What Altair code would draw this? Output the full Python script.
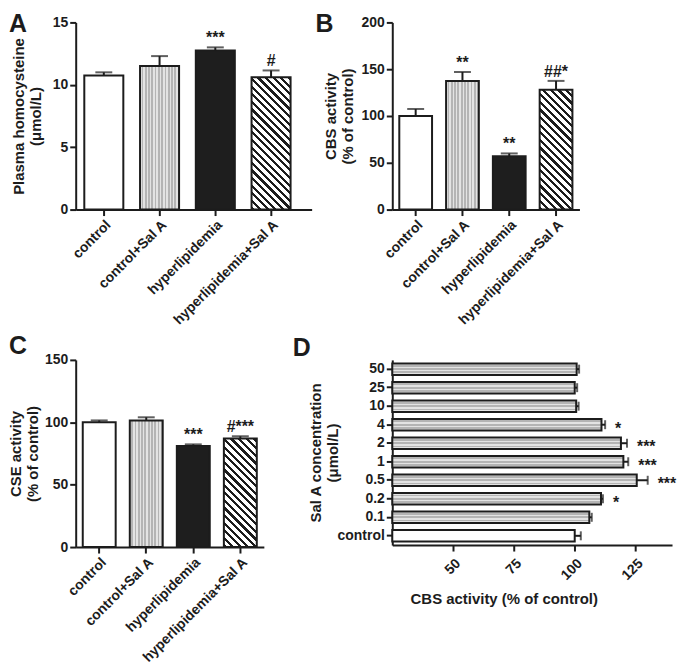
import altair as alt
import pandas as pd

# ---------------- data ----------------
panel_letters = ["A", "B", "C", "D"]
groups = ["control", "control+Sal A", "hyperlipidemia", "hyperlipidemia+Sal A"]
group_fill = ["open", "stipple", "solid", "hatch"]

hcy_mean = [10.75, 11.5, 12.75, 10.6]
hcy_sem = [0.25, 0.8, 0.25, 0.55]
hcy_sig = ["", "", "***", "#"]

cbs_mean = [100, 137.5, 57, 128]
cbs_sem = [7.5, 9.5, 3, 9.5]
cbs_sig = ["", "**", "**", "##*"]

cse_mean = [100, 101.5, 81, 87]
cse_sem = [1.5, 2.5, 1.3, 1.8]
cse_sig = ["", "", "***", "#***"]

conc = ["50", "25", "10", "4", "2", "1", "0.5", "0.2", "0.1", "control"]
conc_fill = ["stipple"] * 9 + ["open"]
conc_mean = [100.8, 100.0, 100.6, 111.0, 119.0, 120.0, 125.5, 110.8, 106.0, 100.0]
conc_sem = [1.0, 1.0, 1.0, 1.5, 2.5, 2.0, 4.5, 0.8, 1.0, 2.5]
conc_sig = ["", "", "", "*", "***", "***", "***", "*", "", ""]

# ---------------- style ----------------
FONT = "Liberation Sans"
INK = "#1c1c1c"
PI = 0.3
H = 188


def hatch_gradient(w, h, period=5.4, duty=0.42):
    """Diagonal '\\' stripes drawn with a sharp-stop linear gradient."""
    k = (w + h) / (w * w + h * h)
    n = (w + h) / (2 ** 0.5 * period)
    stops = []
    i = 0
    while i / n < 1:
        s0 = i / n
        s1 = min((i + duty) / n, 1.0)
        s2 = min((i + 1) / n, 1.0)
        stops += [
            {"offset": s0, "color": INK},
            {"offset": s1, "color": INK},
            {"offset": s1, "color": "#ffffff"},
            {"offset": s2, "color": "#ffffff"},
        ]
        i += 1
    return {"gradient": "linear", "stops": stops,
            "x1": 0, "y1": 1, "x2": w * k, "y2": 1 - h * k}


def stipple_gradient(length, along_x, period=3.3, duty=0.45,
                     dark="#b4b4b4", light="#e3e3e3"):
    """Fine light-grey texture across the short side of a bar."""
    n = length / period
    stops = []
    i = 0
    while i / n < 1:
        s0 = i / n
        s1 = min((i + duty) / n, 1.0)
        s2 = min((i + 1) / n, 1.0)
        stops += [
            {"offset": s0, "color": light},
            {"offset": s1, "color": light},
            {"offset": s1, "color": dark},
            {"offset": s2, "color": dark},
        ]
        i += 1
    if along_x:
        return {"gradient": "linear", "stops": stops, "x1": 0, "y1": 0, "x2": 1, "y2": 0}
    return {"gradient": "linear", "stops": stops, "x1": 0, "y1": 0, "x2": 0, "y2": 1}


def letter_mark(letter, lx, ly):
    return alt.Chart(pd.DataFrame({"t": [letter]})).mark_text(
        font=FONT, fontSize=25, fontWeight="bold", color=INK, align="left", baseline="top"
    ).encode(text="t:N", x=alt.value(lx), y=alt.value(ly))


def vpanel(letter, mean, sem, sig, ytitle, ymax, yticks, W, po, al, tpad, lx, ly):
    df = pd.DataFrame({"group": groups, "fill": group_fill, "mean": mean,
                       "top": [m + s for m, s in zip(mean, sem)], "sig": sig})
    step = W / (len(groups) - PI + 2 * po)
    bw = step * (1 - PI)
    x = alt.X("group:N", sort=groups, title=None,
              scale=alt.Scale(paddingInner=PI, paddingOuter=po, align=al),
              axis=alt.Axis(labelAngle=-45, labelOverlap=False))
    ysc = alt.Scale(domain=[0, ymax], nice=False, zero=True)
    yax = alt.Axis(values=yticks, titlePadding=tpad)

    def Y(f):
        return alt.Y(f, scale=ysc, title=ytitle, axis=yax)

    base = alt.Chart(df).encode(x=x)
    hv = df.loc[df["fill"] == "hatch", "mean"].iloc[0]
    fills = {
        "open": "#ffffff",
        "stipple": stipple_gradient(bw, True),
        "solid": "#1e1e1e",
        "hatch": hatch_gradient(bw, hv / ymax * H),
    }
    layers = []
    for key, f in fills.items():
        layers.append(base.transform_filter(f"datum.fill == '{key}'").mark_bar(
            stroke=INK, strokeWidth=2, fill=f).encode(y=Y("mean:Q")))
    stem = base.mark_rule(color=INK, strokeWidth=2).encode(y=Y("mean:Q"), y2="top:Q")
    cap = base.mark_tick(color=INK, thickness=2, size=17).encode(y=Y("top:Q"))
    txt = base.mark_text(font=FONT, fontSize=16, fontWeight="bold", color=INK,
                         baseline="bottom", dy=-1).encode(y=Y("top:Q"), text="sig:N")
    return alt.layer(*layers, stem, cap, txt, letter_mark(letter, lx, ly)).properties(
        width=W, height=H)


A = vpanel(panel_letters[0], hcy_mean, hcy_sem, hcy_sig, ["Plasma homocysteine", "(μmol/L)"],
           15, [0, 5, 10, 15], 237, 0.266, 0.29, 9, -67, -10)
B = vpanel(panel_letters[1], cbs_mean, cbs_sem, cbs_sig, ["CBS activity", "(% of control)"],
           200, [0, 50, 100, 150, 200], 188, 0.15, 0.5, 6, -77, -10)
C = vpanel(panel_letters[2], cse_mean, cse_sem, cse_sig, ["CSE activity", "(% of control)"],
           150, [0, 50, 100, 150], 189, 0.15, 0.5, 4, -67, -26)

# ---------------- panel D ----------------
dfd = pd.DataFrame({"conc": conc, "fill": conc_fill, "mean": conc_mean,
                    "end": [m + s for m, s in zip(conc_mean, conc_sem)], "sig": conc_sig})
xsc = alt.Scale(domain=[25, 140], nice=False, zero=False)
xax = alt.Axis(values=[50, 75, 100, 125], labelAngle=-45, titleX=112, labelFlush=False,
               labelPadding=5, titlePadding=9)
XT = "CBS activity (% of control)"
DH = 186
DPI, DPO = 0.38, 0.19
dbw = DH / (len(conc) - DPI + 2 * DPO) * (1 - DPI)


def XD(f):
    return alt.X(f, scale=xsc, title=XT, axis=xax)


yd = alt.Y("conc:N", sort=conc, title=["Sal A concentration", "(μmol/L)"],
           scale=alt.Scale(paddingInner=DPI, paddingOuter=DPO),
           axis=alt.Axis(maxExtent=46, titlePadding=6, labelOverlap=False))
based = alt.Chart(dfd).encode(y=yd)
dfills = {"open": "#ffffff", "stipple": stipple_gradient(dbw, False)}
dlayers = []
for key, f in dfills.items():
    dlayers.append(based.transform_filter(f"datum.fill == '{key}'").mark_bar(
        stroke=INK, strokeWidth=2, fill=f).encode(x=XD("mean:Q"), x2=alt.datum(25)))
dstem = based.mark_rule(color=INK, strokeWidth=2).encode(x=XD("mean:Q"), x2="end:Q")
dcap = based.mark_tick(color=INK, thickness=2, size=9).encode(x=XD("end:Q"))
dtxt = based.mark_text(font=FONT, fontSize=16, fontWeight="bold", color=INK,
                       align="left", baseline="middle", dx=10, dy=4).encode(
    x=XD("end:Q"), text="sig:N")
D = alt.layer(*dlayers, dstem, dcap, dtxt, letter_mark(panel_letters[3], -100, -24)).properties(
    width=281, height=DH)

chart = alt.concat(A, B, C, D, columns=2, spacing={"row": 151, "column": 81},
                   bounds="flush", align="each",
                   padding={"left": 0, "top": 3, "right": 0, "bottom": 0}).configure_view(
    stroke=None
).configure_axis(
    grid=False, domainColor=INK, domainWidth=2, tickColor=INK, tickWidth=2, tickSize=6,
    labelFont=FONT, labelFontSize=14, labelFontWeight="bold", labelColor=INK, labelPadding=2,
    titleFont=FONT, titleFontSize=15, titleFontWeight="bold", titleColor=INK, titleLineHeight=17
)

chart.save("out.html", embed_options={"renderer": "svg", "actions": False})
